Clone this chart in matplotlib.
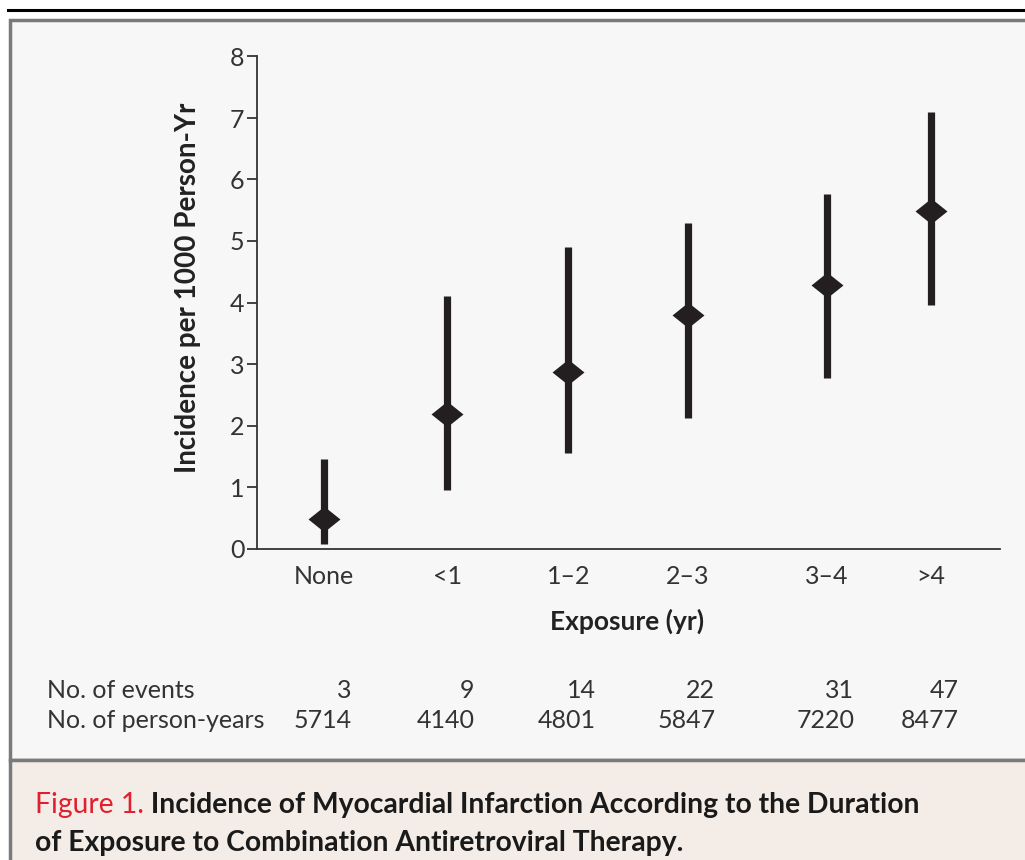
import matplotlib
matplotlib.use("Agg")
import matplotlib.pyplot as plt
from matplotlib.patches import Rectangle
from matplotlib.lines import Line2D
from matplotlib import font_manager

# data
categories = ["None", "<1", "1\u20132", "2\u20133", "3\u20134", ">4"]
incidence = [0.48, 2.18, 2.87, 3.79, 4.29, 5.48]
ci_low = [0.07, 0.95, 1.55, 2.12, 2.77, 3.96]
ci_high = [1.46, 4.10, 4.91, 5.30, 5.76, 7.10]
events = [3, 9, 14, 22, 31, 47]
person_years = [5714, 4140, 4801, 5847, 7220, 8477]

# x placement of the groups (uneven in the original)
xpos = [1.0, 2.02, 3.02, 4.01, 5.16, 6.02]

names = set(f.name for f in font_manager.fontManager.ttflist)
fam = [n for n in ["Liberation Sans Narrow", "Lato", "DejaVu Sans"] if n in names]
plt.rcParams['font.family'] = fam

W, H = 1025, 860
fig = plt.figure(figsize=(W / 100, H / 100), dpi=100)
fig.patch.set_facecolor("white")

def fx(px):
    return px / W

def fy(py):
    return 1 - py / H

# background panels
fig.patches.append(Rectangle((fx(10), fy(760)), fx(1030) - fx(10), fy(20) - fy(760),
                             transform=fig.transFigure, facecolor="#f7f7f7",
                             edgecolor="#7a7a7a", linewidth=2.5, zorder=-2))
fig.patches.append(Rectangle((fx(10), -0.01), 1.0, fy(760) + 0.01,
                             transform=fig.transFigure, facecolor="#f4ede7",
                             edgecolor="#7a7a7a", linewidth=2.5, zorder=-2))
fig.lines.append(Line2D([fx(8), 1.0], [fy(10), fy(10)], transform=fig.transFigure,
                        color="black", linewidth=2.2, zorder=-1))

ax = fig.add_axes([fx(257), fy(548.5), fx(1000) - fx(257), fy(56.5) - fy(548.5)])
ax.set_facecolor("none")

ink = "#231f20"
yerr = [[m - lo for m, lo in zip(incidence, ci_low)],
        [hi - m for m, hi in zip(incidence, ci_high)]]
ax.errorbar(xpos, incidence, yerr=yerr, fmt="none", ecolor=ink, elinewidth=5.2,
            capsize=0, zorder=2)
diamond = [(-1, 0), (0, 0.8), (1, 0), (0, -0.8), (-1, 0)]
ax.plot(xpos, incidence, linestyle="none", marker=diamond, markersize=23,
        color=ink, markeredgewidth=0, zorder=3)

ax.set_xlim(0.446, 6.59)
ax.set_ylim(0, 8)
ax.set_yticks(range(0, 9))
ax.set_xticks(xpos)
ax.set_xticklabels(categories)
for s in ["top", "right"]:
    ax.spines[s].set_visible(False)
for s in ["left", "bottom"]:
    ax.spines[s].set_color("#333333")
    ax.spines[s].set_linewidth(1.3)
ax.tick_params(axis="y", direction="out", length=7, width=1.3, color="#333333",
               labelsize=18, pad=2, labelcolor="#333333")
ax.tick_params(axis="x", length=0, labelsize=18, pad=12, labelcolor="#333333")

ax.set_ylabel("Incidence per 1000 Person-Yr", fontsize=20, fontweight="bold",
              color="#222222")
ax.yaxis.set_label_coords(-0.076, 0.53)
ax.set_xlabel("Exposure (yr)", fontsize=19, fontweight="bold", color="#222222")
ax.xaxis.set_label_coords(0.498, -0.122)

# table below the chart
tr = ax.get_xaxis_transform()
ax.text(-0.283, -0.289, "No. of events", transform=ax.transAxes, fontsize=18,
        color="#333333", va="center", ha="left")
ax.text(-0.283, -0.350, "No. of person-years", transform=ax.transAxes, fontsize=18,
        color="#333333", va="center", ha="left")
for x, e, p in zip(xpos, events, person_years):
    ax.text(x + 0.225, -0.289, str(e), transform=tr, fontsize=18, color="#333333",
            va="center", ha="right")
    ax.text(x + 0.225, -0.350, str(p), transform=tr, fontsize=18, color="#333333",
            va="center", ha="right")

# caption
t1 = fig.text(fx(35), fy(805), "Figure 1.", fontsize=20.3, color="#e0202f",
              va="center", ha="left")
fig.canvas.draw()
bb = t1.get_window_extent()
x_end = fig.transFigure.inverted().transform((bb.x1, bb.y0))[0]
fig.text(x_end, fy(805), " Incidence of Myocardial Infarction According to the Duration",
         fontsize=20.3, fontweight="bold", color="#1a1a1a", va="center", ha="left")
fig.text(fx(35), fy(843), "of Exposure to Combination Antiretroviral Therapy.",
         fontsize=20.3, fontweight="bold", color="#1a1a1a", va="center", ha="left")

fig.savefig("out.png", dpi=100, facecolor=fig.get_facecolor())
